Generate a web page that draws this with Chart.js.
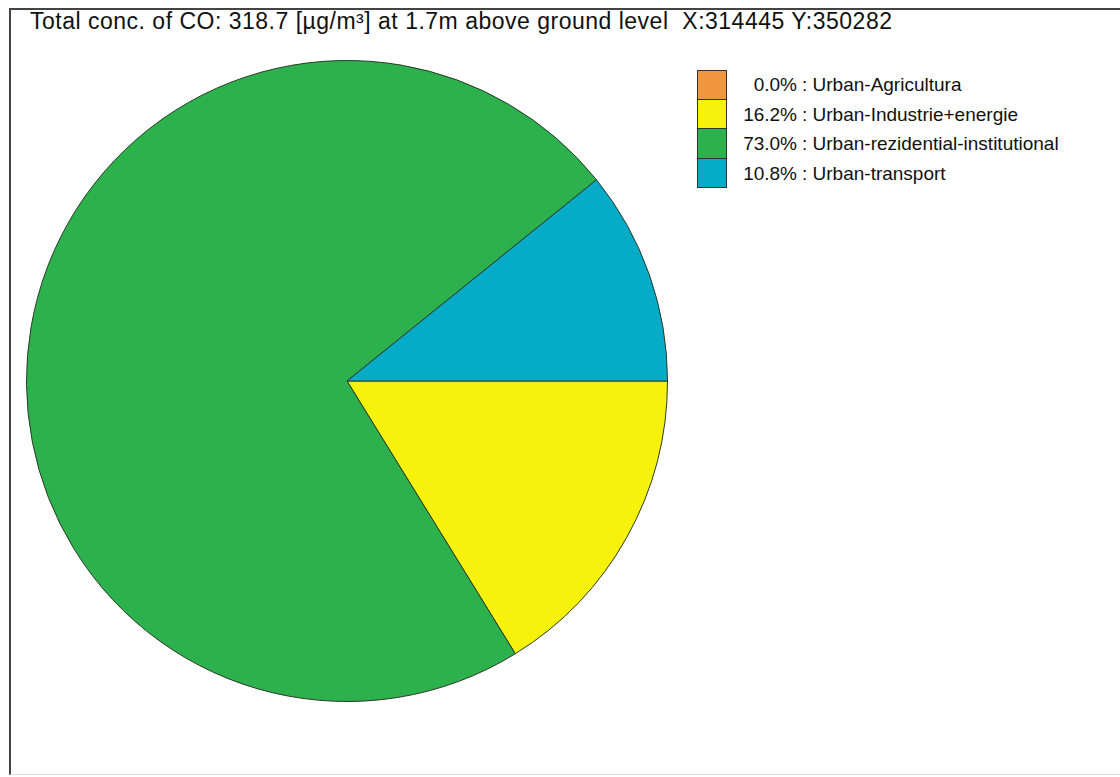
<!DOCTYPE html>
<html>
<head>
<meta charset="utf-8">
<script src="https://cdn.jsdelivr.net/npm/chart.js@4.4.1/dist/chart.umd.min.js"></script>
<style>
  html, body { margin: 0; padding: 0; background: #fff; }
  body { width: 1120px; height: 777px; position: relative; overflow: hidden;
         font-family: "Liberation Sans", Arial, sans-serif; color: #111; }
  #frame { position: absolute; left: 9px; top: 8px; width: 1130px; height: 764px;
           border-left: 2px solid #444; border-top: 2px solid #444; border-bottom: 1px solid #ddd; }
  #title { position: absolute; left: 30px; top: 10px; font-size: 23px; line-height: 23px;
           letter-spacing: 0.5px; white-space: nowrap; }
  #pieBox { position: absolute; left: 26px; top: 60px; width: 642px; height: 642px; }
  #legend { position: absolute; left: 697px; top: 70px; }
  .row { position: relative; height: 29.5px; }
  .sw { position: absolute; left: 0; top: 0; width: 28px; height: 28.5px; border: 1px solid #333; border-top: none; }
  .row:first-child .sw { border-top: 1px solid #333; height: 27.5px; }
  .pct { position: absolute; left: 40px; width: 60px; text-align: right; font-size: 19px; line-height: 29.5px; white-space: nowrap; }
  .lbl { position: absolute; left: 105px; font-size: 19px; line-height: 29.5px; white-space: nowrap; }
</style>
</head>
<body>
<div id="frame"></div>
<div id="title">Total conc. of CO: 318.7 [µg/m³] at 1.7m above ground level&nbsp; X:314445 Y:350282</div>
<div id="pieBox"><canvas id="pie"></canvas></div>
<div id="legend"></div>
<script>
// sources of CO and their share in percent
const categories = ["Urban-Agricultura", "Urban-Industrie+energie", "Urban-rezidential-institutional", "Urban-transport"];
const shares = [0.0, 16.2, 73.0, 10.8];
const colors = ["#ef963f", "#f7f20c", "#2db14c", "#06abc8"];

// ===============================
//  LEGEND
// ===============================
function buildLegend() {
  const box = document.getElementById("legend");
  categories.forEach((name, i) => {
    box.innerHTML += `
      <div class="row">
        <div class="sw" style="background:${colors[i]}"></div>
        <span class="pct">${shares[i].toFixed(1)}%</span>
        <span class="lbl">: ${name}</span>
      </div>`;
  });
}

// ===============================
//  PIE
// ===============================
function createPie() {
  const ctx = document.getElementById("pie");
  new Chart(ctx, {
    type: "pie",
    data: {
      labels: categories,
      datasets: [{
        data: shares,
        backgroundColor: colors,
        borderColor: "#2a3a2a",
        borderWidth: 1
      }]
    },
    options: {
      responsive: true,
      maintainAspectRatio: false,
      animation: false,
      rotation: 90,
      layout: { padding: 0 },
      plugins: { legend: { display: false }, tooltip: { enabled: false } }
    }
  });
}

buildLegend();
createPie();
</script>
</body>
</html>
